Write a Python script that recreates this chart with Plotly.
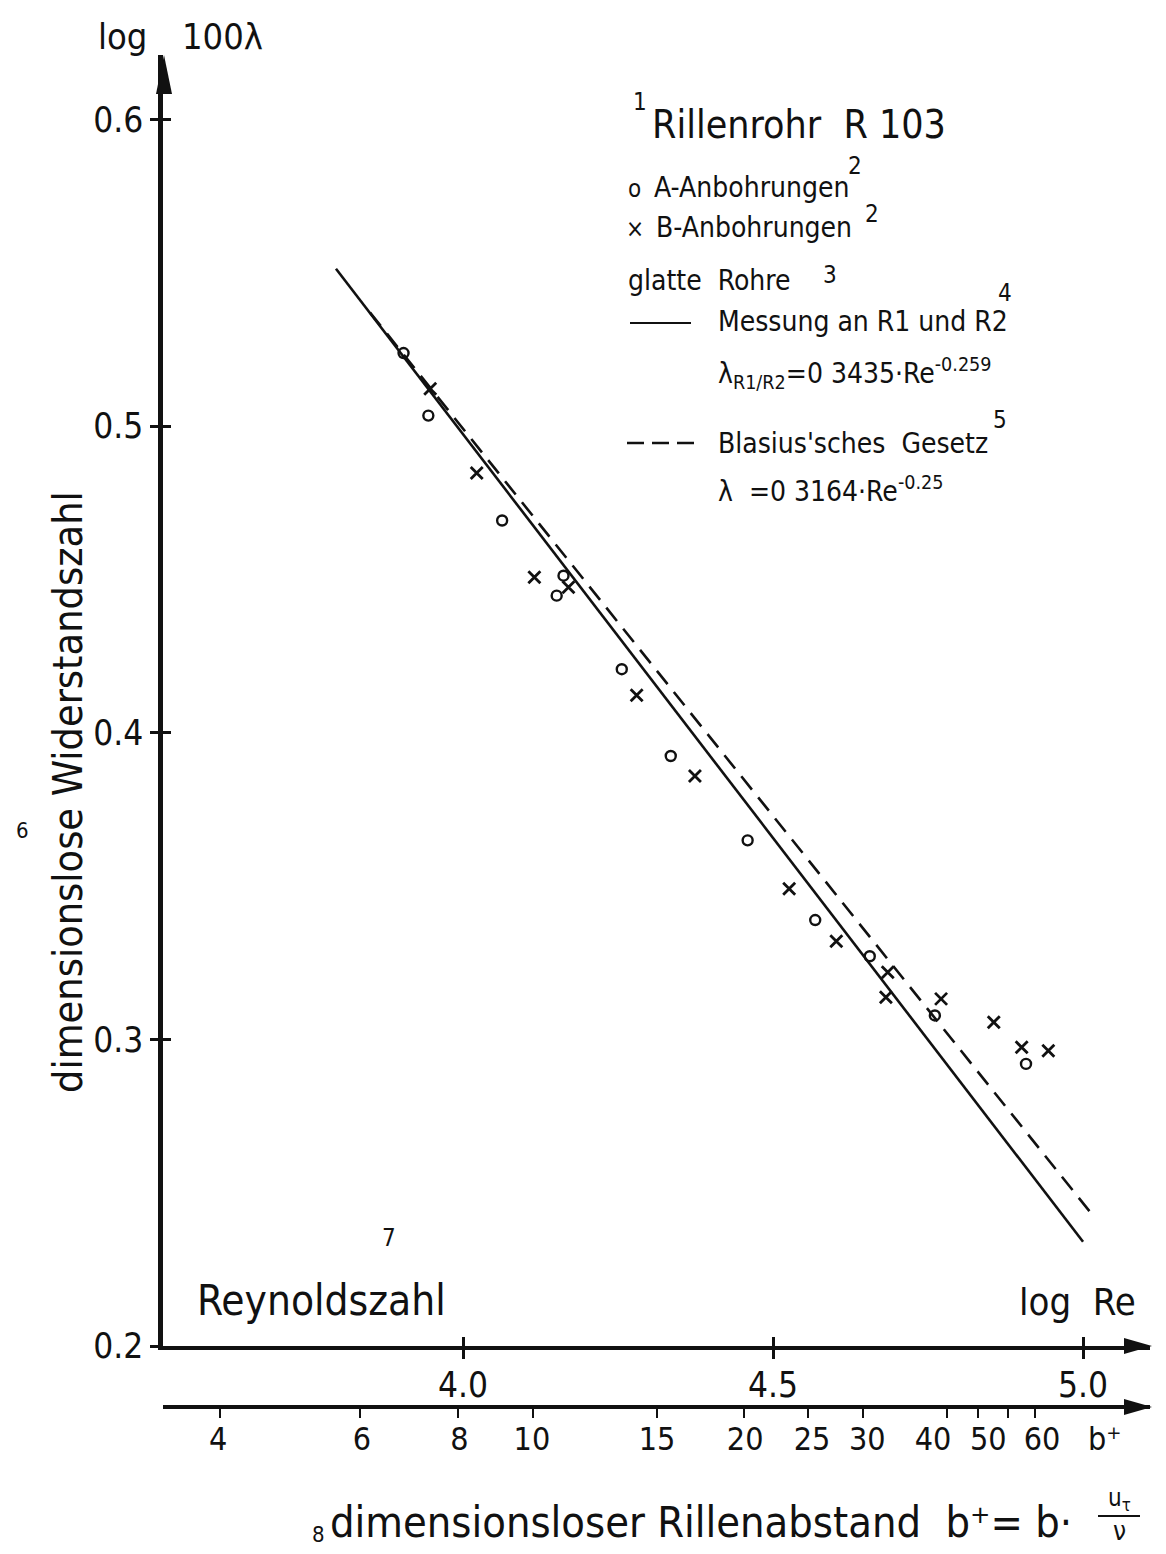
import plotly.graph_objects as go

# ---------------- data ----------------
# A-Anbohrungen (circles): log Re, log 100 lambda
a_logre = [3.904, 3.944, 4.063, 4.151, 4.162, 4.256, 4.335, 4.459, 4.568, 4.656, 4.761, 4.908]
a_val   = [0.5238, 0.5034, 0.4692, 0.4447, 0.4512, 0.4207, 0.3924, 0.3649, 0.3389, 0.3271, 0.3078, 0.2920]
# B-Anbohrungen (crosses)
b_logre = [3.947, 4.022, 4.115, 4.170, 4.280, 4.374, 4.526, 4.602, 4.685, 4.682, 4.771, 4.856, 4.901, 4.944]
b_val   = [0.5122, 0.4847, 0.4507, 0.4474, 0.4122, 0.3859, 0.3491, 0.3320, 0.3219, 0.3137, 0.3132, 0.3056, 0.2974, 0.2963]
# glatte Rohre: Messung an R1 und R2 (solid), Blasius (dashed) - end points
r12_logre = [3.795, 5.000]
r12_val   = [0.5513, 0.2340]
bla_logre = [3.850, 5.011]
bla_val   = [0.5370, 0.2438]

# axes
y_ticks = [0.2, 0.3, 0.4, 0.5, 0.6]
y_ticktext = ["0.2", "0.3", "0.4", "0.5", "0.6"]
x_ticks = [4.0, 4.5, 5.0]
x_ticktext = ["4.0", "4.5", "5.0"]
# b+ scale (positions expressed in log Re)
bplus_tick_pos = [3.608, 3.834, 3.992, 4.113, 4.313, 4.453, 4.556, 4.645, 4.781, 4.831, 4.879, 4.923]
bplus_label_pos = [3.605, 3.837, 3.994, 4.111, 4.313, 4.455, 4.563, 4.652, 4.758, 4.847, 4.934, 5.035]
bplus_labels = ["4", "6", "8", "10", "15", "20", "25", "30", "40", "50", "60", "b⁺"]

# ---------------- layout geometry (screen pixels; page body has an 8px margin) ----------------
OFF = 8
W, H = 1150, 1538
PL, PR, PT, PB = 163, 1150, 55, 1420       # plotting paper box on screen
ML, MT = PL - OFF, PT - OFF
MR, MB = W - (PR - OFF), H - (PB - OFF)
PW, PH = PR - PL, PB - PT
AX_Y = 1346   # screen row of main x axis
B_Y = 1407    # screen row of b+ axis
XR = [3.516, 5.108]
YR = [0.2, 0.621]
FONT = "DejaVu Sans Condensed, DejaVu Sans, Arial, sans-serif"
INK = "#111111"


def px(x):
    return (x - PL) / PW


def py(y):
    return (PB - y) / PH


ydom0 = py(AX_Y)

fig = go.Figure()

fig.add_trace(go.Scatter(x=r12_logre, y=r12_val, mode="lines",
                         line=dict(color=INK, width=2.6), hoverinfo="skip", showlegend=False))
fig.add_trace(go.Scatter(x=bla_logre, y=bla_val, mode="lines",
                         line=dict(color=INK, width=2.6, dash="17px,10px"), hoverinfo="skip", showlegend=False))
fig.add_trace(go.Scatter(x=a_logre, y=a_val, mode="markers",
                         marker=dict(symbol="circle-open", size=10, color=INK, line=dict(width=2.4)),
                         showlegend=False))
fig.add_trace(go.Scatter(x=b_logre, y=b_val, mode="markers",
                         marker=dict(symbol="x-thin-open", size=12, color=INK, line=dict(width=2.8, color=INK)),
                         showlegend=False))
# axis-binding helper traces (empty)
for xa, ya in [("x2", "y"), ("x3", "y"), ("x4", "y"), ("x", "y2")]:
    fig.add_trace(go.Scatter(x=[], y=[], xaxis=xa, yaxis=ya, mode="markers", showlegend=False))

common_x = dict(range=XR, showgrid=False, zeroline=False, fixedrange=True, tickangle=0)
common_y = dict(range=YR, showgrid=False, zeroline=False, fixedrange=True, domain=[ydom0, 1])

fig.update_layout(
    width=W, height=H,
    margin=dict(l=ML, r=MR, t=MT, b=MB),
    paper_bgcolor="white", plot_bgcolor="white",
    font=dict(family=FONT, color=INK),
    xaxis=dict(**common_x, anchor="y", tickvals=x_ticks, showticklabels=False,
               ticks="outside", ticklen=9, tickwidth=2.5, tickcolor=INK,
               showline=True, linewidth=3.5, linecolor=INK),
    xaxis3=dict(**common_x, overlaying="x", anchor="y", tickvals=x_ticks,
                ticks="inside", ticklen=9, tickwidth=2.5, tickcolor=INK,
                showticklabels=False, showline=False),
    xaxis2=dict(**common_x, overlaying="x", anchor="free", position=py(B_Y),
                tickvals=bplus_tick_pos, showticklabels=False,
                ticks="outside", ticklen=9, tickwidth=2.2, tickcolor=INK,
                showline=True, linewidth=3.5, linecolor=INK),
    xaxis4=dict(**common_x, overlaying="x", anchor="free", position=py(B_Y),
                tickvals=bplus_label_pos, ticktext=bplus_labels, ticks="",
                showline=False, tickfont=dict(size=32, family=FONT, color=INK),
                ticklabelstandoff=10),
    yaxis=dict(**common_y, anchor="x", tickvals=y_ticks, ticktext=y_ticktext,
               ticks="outside", ticklen=8, tickwidth=2.5, tickcolor=INK,
               showline=True, linewidth=4.5, linecolor=INK,
               tickfont=dict(size=35, family=FONT, color=INK)),
    yaxis2=dict(**common_y, overlaying="y", anchor="x", tickvals=y_ticks,
                ticks="inside", ticklen=8, tickwidth=2.5, tickcolor=INK,
                showticklabels=False, showline=False),
)

# main x tick labels placed under the ticks
for v, t in zip(x_ticks, x_ticktext):
    fig.add_annotation(text=t, x=v, xref="x", y=py(1385), yref="paper", showarrow=False,
                       xanchor="center", yanchor="middle", font=dict(size=35, family=FONT, color=INK))


# arrow heads
def tri(pts):
    p = " L ".join(f"{px(a):.5f},{py(b):.5f}" for a, b in pts)
    return f"M {p} Z"

shapes = [
    dict(type="path", path=tri([(164, 55), (156, 94), (172, 94)]), fillcolor=INK, line=dict(width=0)),
    dict(type="path", path=tri([(1152, AX_Y), (1124, AX_Y - 8), (1124, AX_Y + 8)]), fillcolor=INK, line=dict(width=0)),
    dict(type="path", path=tri([(1152, B_Y), (1124, B_Y - 8), (1124, B_Y + 8)]), fillcolor=INK, line=dict(width=0)),
    # legend line samples
    dict(type="line", x0=px(630), x1=px(691), y0=py(323), y1=py(323), line=dict(color=INK, width=2.2)),
    dict(type="line", x0=px(627), x1=px(697), y0=py(443), y1=py(443), line=dict(color=INK, width=2.4, dash="17px,8px")),
    # fraction bar of u_tau / nu
    dict(type="line", x0=px(1098), x1=px(1140), y0=py(1516), y1=py(1516), line=dict(color=INK, width=2.2)),
]
for s in shapes:
    s.update(xref="paper", yref="paper")
fig.update_layout(shapes=shapes)


def note(text, x, y, size, xanchor="left", yanchor="middle", angle=0):
    fig.add_annotation(text=text, x=px(x), y=py(y), xref="paper", yref="paper",
                       showarrow=False, xanchor=xanchor, yanchor=yanchor, textangle=angle,
                       font=dict(size=size, family=FONT, color=INK))


note("log", 96, 36, 36)
note("100λ", 180, 36, 36)
note("1", 640, 102, 24, xanchor="center")
note("Rillenrohr  R 103", 650, 124, 39)
note("o", 634, 189, 24, xanchor="center")
note("A-Anbohrungen", 652, 188, 28)
note("2", 855, 166, 24, xanchor="center")
note("×", 635, 229, 24, xanchor="center")
note("B-Anbohrungen", 654, 227, 28)
note("2", 872, 214, 24, xanchor="center")
note("glatte  Rohre", 626, 280, 28)
note("3", 830, 275, 24, xanchor="center")
note("Messung an R1 und R2", 716, 322, 28)
note("4", 1005, 293, 24, xanchor="center")
note("λ<sub>R1/R2</sub>=0 3435·Re<sup>-0.259</sup>", 716, 374, 28)
note("Blasius'sches  Gesetz", 716, 443, 28)
note("5", 1000, 420, 24, xanchor="center")
note("λ  =0 3164·Re<sup>-0.25</sup>", 716, 489, 28)
note("6", 22, 830, 22, xanchor="center")
note("dimensionslose Widerstandszahl", 68, 792, 41, xanchor="center", angle=-90)
note("7", 389, 1238, 24, xanchor="center")
note("Reynoldszahl", 195, 1300, 42)
note("log  Re", 1017, 1302, 38)
note("8", 318, 1534, 22, xanchor="center")
note("dimensionsloser Rillenabstand  b⁺= b·", 328, 1522, 43)
note("u<sub>τ</sub>", 1119, 1499, 24, xanchor="center")
note("ν", 1119, 1531, 26, xanchor="center")

fig.write_html("out.html")
